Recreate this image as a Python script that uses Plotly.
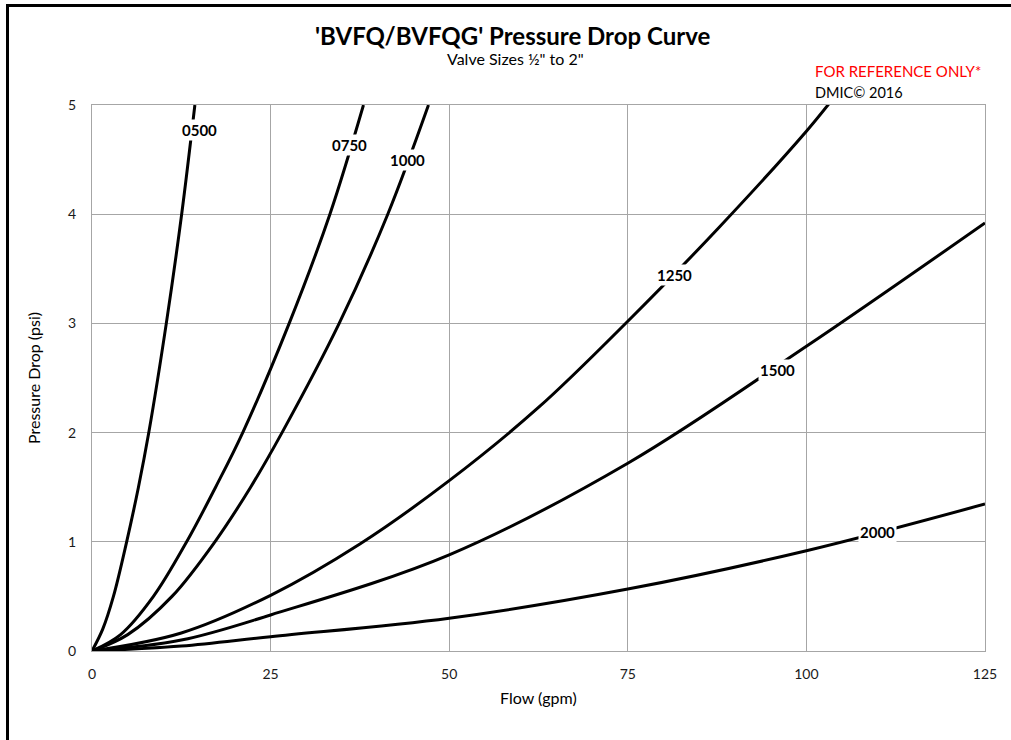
import plotly.graph_objects as go

# ---- data ----
q_0500 = [0, 1.5, 3.0, 4.85, 6.5, 7.95, 10.4, 12.55, 14.4]
p_0500 = [0, 0.2, 0.5, 1.0, 1.5, 2.0, 3.0, 4.0, 5.0]

q_0750 = [0, 4.0, 8.6, 13.25, 17.3, 21.1, 27.6, 33.3, 38.0]
p_0750 = [0, 0.15, 0.5, 1.0, 1.5, 2.0, 3.0, 4.0, 5.0]

q_1000 = [0, 5.0, 11.2, 17.2, 22.2, 26.6, 34.6, 41.4, 47.1]
p_1000 = [0, 0.15, 0.5, 1.0, 1.5, 2.0, 3.0, 4.0, 5.0]

q_1250 = [0, 12.5, 25, 37.5, 50, 62.5, 75, 87.5, 100, 103.5]
p_1250 = [0, 0.165, 0.51, 0.98, 1.56, 2.23, 3.02, 3.86, 4.76, 5.04]

q_1500 = [0, 12.5, 25, 50, 75, 100, 125]
p_1500 = [0, 0.10, 0.33, 0.88, 1.72, 2.79, 3.92]

q_2000 = [0, 12.5, 25, 50, 75, 100, 125]
p_2000 = [0, 0.045, 0.131, 0.30, 0.567, 0.918, 1.346]

series_names = ["0500", "0750", "1000", "1250", "1500", "2000"]
series_q = [q_0500, q_0750, q_1000, q_1250, q_1500, q_2000]
series_p = [p_0500, p_0750, p_1000, p_1250, p_1500, p_2000]

# label anchor points (flow, psi)
label_q = [15.0, 36.1, 44.1, 81.6, 96.0, 110.0]
label_p = [4.77, 4.63, 4.50, 3.44, 2.57, 1.09]

x_ticks = [0, 25, 50, 75, 100, 125]
y_ticks = [0, 1, 2, 3, 4, 5]

FONT = "Lato"
W, H = 1011, 740
L, T = 92, 105
PW, PH = 893, 546
R, B = W - L - PW, H - T - PH


def px(xpage):
    return (xpage - L) / PW


def py(ypage):
    return (H - B - ypage) / PH


fig = go.Figure()
for name, q, p in zip(series_names, series_q, series_p):
    fig.add_trace(go.Scatter(
        x=q, y=p, mode="lines", name=name,
        line=dict(color="black", width=3, shape="spline", smoothing=1.0),
        hoverinfo="skip", showlegend=False,
    ))

annotations = []
for name, lq, lp in zip(series_names, label_q, label_p):
    annotations.append(dict(
        x=lq, y=lp, xref="x", yref="y", text=f"<b>{name}</b>",
        showarrow=False, bgcolor="white", borderpad=1,
        font=dict(family=FONT, size=15, color="black"),
    ))

annotations += [
    dict(x=px(512), y=py(35), xref="paper", yref="paper",
         text="<b>'BVFQ/BVFQG' Pressure Drop Curve</b>", showarrow=False,
         font=dict(family=FONT, size=24, color="black"),
         xanchor="center", yanchor="middle"),
    dict(x=px(515), y=py(58), xref="paper", yref="paper",
         text='Valve Sizes ½" to 2"', showarrow=False,
         font=dict(family=FONT, size=16, color="black"),
         xanchor="center", yanchor="middle"),
    dict(x=px(813), y=py(71), xref="paper", yref="paper",
         text="FOR REFERENCE ONLY*", showarrow=False,
         font=dict(family=FONT, size=15, color="#FF0000"),
         xanchor="left", yanchor="middle"),
    dict(x=px(813), y=py(92), xref="paper", yref="paper",
         text="DMIC© 2016", showarrow=False,
         font=dict(family=FONT, size=14.5, color="black"),
         xanchor="left", yanchor="middle"),
    dict(x=px(538), y=py(697), xref="paper", yref="paper",
         text="Flow (gpm)", showarrow=False,
         font=dict(family=FONT, size=16, color="black"),
         xanchor="center", yanchor="middle"),
    dict(x=px(33), y=py(378), xref="paper", yref="paper",
         text="Pressure Drop (psi)", showarrow=False, textangle=-90,
         font=dict(family=FONT, size=16, color="black"),
         xanchor="center", yanchor="middle"),
]

# outer frame: only the left and top edges are inside the picture
bx, by_top, by_bot, bx_right = px(7.5), py(5.5), py(760), px(1011)
shapes = [
    dict(type="path", xref="paper", yref="paper",
         path=f"M {bx},{by_bot} L {bx},{by_top} L {bx_right},{by_top}",
         line=dict(color="black", width=3), fillcolor="rgba(0,0,0,0)",
         layer="above"),
]

axis_common = dict(
    showgrid=True, gridcolor="#A6A6A6", gridwidth=1,
    showline=True, linecolor="#A6A6A6", linewidth=1, mirror=True,
    zeroline=False, ticks="", tickfont=dict(family=FONT, size=14, color="#1a1a1a"),
    fixedrange=True, automargin=False,
)

fig.update_layout(
    width=W, height=H,
    margin=dict(l=L, r=R, t=T, b=B, autoexpand=False),
    paper_bgcolor="white", plot_bgcolor="white",
    xaxis=dict(range=[0, 125], tickvals=x_ticks, ticklabelstandoff=10, **axis_common),
    yaxis=dict(range=[0, 5], tickvals=y_ticks, ticklabelstandoff=12, **axis_common),
    annotations=annotations,
    shapes=shapes,
    showlegend=False,
)

fig.write_html(
    "out.html",
    config={"displayModeBar": False, "staticPlot": True},
    post_script=(
        "document.body.style.margin='0';"
        "document.body.style.overflow='hidden';"
        "document.documentElement.style.overflow='hidden';"
    ),
)
